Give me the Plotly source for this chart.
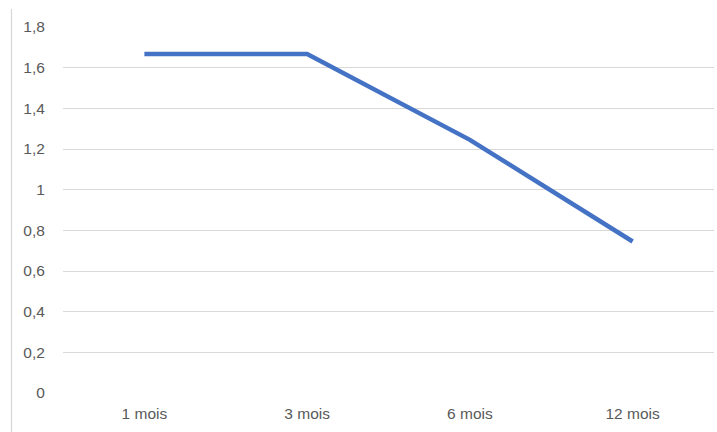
import plotly.graph_objects as go

categories = ["1 mois", "3 mois", "6 mois", "12 mois"]
values = [1.667, 1.667, 1.245, 0.745]
y_ticks = [0, 0.2, 0.4, 0.6, 0.8, 1.0, 1.2, 1.4, 1.6, 1.8]

W, H = 717, 432
ml, mr, mt, mb = 63, 3, 27, 39
pw = W - ml - mr
ph = H - mt - mb

fig = go.Figure()
fig.add_trace(go.Scatter(
    x=categories, y=values, mode="lines",
    line=dict(color="#4472C4", width=4.5),
    hoverinfo="skip", showlegend=False,
))

font = dict(family="Liberation Sans, Arial, sans-serif", size=15.5, color="#595959")

fig.update_layout(
    width=W, height=H,
    margin=dict(l=ml, r=mr, t=mt, b=mb),
    paper_bgcolor="white", plot_bgcolor="white",
    separators=",.",
    font=font,
    xaxis=dict(
        type="category", range=[-0.5, 3.5],
        showgrid=False, zeroline=False, showline=False,
        ticks="outside", ticklen=6, tickcolor="rgba(0,0,0,0)",
        tickfont=font, fixedrange=True,
    ),
    yaxis=dict(
        range=[0, 1.8], tickvals=y_ticks,
        showgrid=True, gridcolor="#D9D9D9", gridwidth=1.3,
        zeroline=False, showline=False,
        ticks="outside", ticklen=14, tickcolor="rgba(0,0,0,0)",
        tickfont=font, fixedrange=True,
    ),
    shapes=[dict(
        type="line", xref="paper", yref="paper",
        x0=(11.5 - ml) / pw, x1=(11.5 - ml) / pw,
        y0=-(mb) / ph, y1=1 + (mt - 9) / ph,
        line=dict(color="#D9D9D9", width=1.3),
    )],
)

fig.write_html(
    "out.html",
    config={"displayModeBar": False},
    post_script="document.body.style.margin='0';document.body.style.overflow='hidden';",
)
